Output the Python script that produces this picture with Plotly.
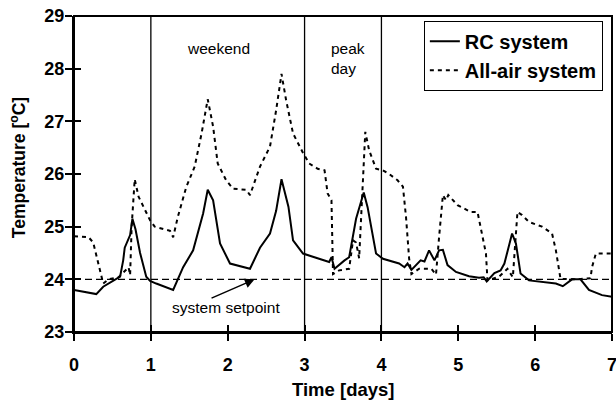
import plotly.graph_objects as go

# ---- data ----
rc_t = [0, 0.29, 0.38, 0.58, 0.60, 0.64, 0.66, 0.73, 0.76, 0.80, 0.86, 0.94, 0.99, 1.07,
        1.29, 1.42, 1.55, 1.68, 1.74, 1.81, 1.90, 2.03, 2.29, 2.42, 2.55, 2.63, 2.70, 2.79,
        2.85, 2.98, 3.24, 3.32, 3.35, 3.39, 3.52, 3.58, 3.67, 3.74, 3.77, 3.82, 3.93, 4.02,
        4.23, 4.30, 4.34, 4.39, 4.51, 4.56, 4.62, 4.69, 4.75, 4.80, 4.86, 4.97, 5.14, 5.27,
        5.33, 5.37, 5.47, 5.55, 5.60, 5.70, 5.75, 5.81, 5.92, 6.27, 6.36, 6.48, 6.59, 6.70,
        6.87, 7.0]
rc_temp = [23.80, 23.72, 23.86, 24.02, 24.05, 24.36, 24.60, 24.84, 25.15, 24.95, 24.50, 24.05,
           23.97, 23.92, 23.80, 24.23, 24.55, 25.25, 25.70, 25.50, 24.68, 24.30, 24.20, 24.60,
           24.87, 25.30, 25.90, 25.38, 24.74, 24.49, 24.36, 24.33, 24.42, 24.20, 24.36, 24.42,
           25.15, 25.50, 25.65, 25.37, 24.49, 24.39, 24.30, 24.23, 24.30, 24.18, 24.36, 24.34,
           24.55, 24.36, 24.55, 24.56, 24.27, 24.14, 24.06, 24.03, 24.04, 23.96, 24.12, 24.17,
           24.30, 24.87, 24.68, 24.11, 23.98, 23.92, 23.87, 24.00, 24.00, 23.80, 23.70, 23.67]

aa_t = [0, 0.19, 0.25, 0.36, 0.38, 0.45, 0.58, 0.71, 0.73, 0.75, 0.79, 0.84, 0.99, 1.05,
        1.16, 1.25, 1.29, 1.35, 1.46, 1.57, 1.66, 1.74, 1.81, 1.87, 1.98, 2.07, 2.24, 2.29,
        2.42, 2.55, 2.63, 2.70, 2.76, 2.85, 2.98, 3.06, 3.17, 3.26, 3.30, 3.35, 3.37, 3.45,
        3.58, 3.63, 3.67, 3.71, 3.74, 3.79, 3.84, 3.93, 4.02, 4.10, 4.21, 4.28, 4.32, 4.36,
        4.39, 4.49, 4.65, 4.71, 4.75, 4.80, 4.84, 4.87, 4.99, 5.16, 5.25, 5.29, 5.36, 5.38,
        5.53, 5.64, 5.71, 5.75, 5.77, 5.83, 5.92, 6.09, 6.22, 6.27, 6.33, 6.53, 6.72, 6.74,
        6.79, 7.0]
aa_temp = [24.82, 24.80, 24.70, 24.08, 23.92, 24.00, 24.04, 24.23, 24.08, 25.00, 25.90, 25.57,
           25.12, 25.00, 24.96, 24.92, 24.80, 25.18, 25.75, 26.14, 26.77, 27.42, 26.90, 26.20,
           25.88, 25.72, 25.70, 25.60, 26.14, 26.52, 27.21, 27.90, 27.40, 26.77, 26.40, 26.20,
           26.10, 26.07, 25.63, 25.50, 24.10, 24.17, 24.20, 24.74, 24.70, 24.40, 25.30, 26.80,
           26.45, 26.10, 26.07, 26.00, 25.88, 25.76, 25.18, 24.40, 24.10, 24.20, 24.20, 24.09,
           24.80, 25.60, 25.50, 25.60, 25.41, 25.28, 25.28, 25.00, 24.49, 23.98, 24.05, 24.20,
           24.04, 24.87, 25.28, 25.22, 25.09, 25.00, 24.87, 24.55, 24.01, 24.00, 24.02, 24.23,
           24.49, 24.49]

setpoint_t = [0, 7]
setpoint_temp = [24, 24]
day_markers = [1, 3, 4]
x_ticks = [0, 1, 2, 3, 4, 5, 6, 7]
y_ticks = [23, 24, 25, 26, 27, 28, 29]

FONT = "Liberation Sans, Arial, Helvetica, sans-serif"

fig = go.Figure()
fig.add_trace(go.Scatter(x=setpoint_t, y=setpoint_temp, mode="lines", showlegend=False,
                         line=dict(color="black", width=1.2, dash="7px,4px"), hoverinfo="skip"))
for d in day_markers:
    fig.add_trace(go.Scatter(x=[d, d], y=[23, 29], mode="lines", showlegend=False,
                             line=dict(color="black", width=1.3), hoverinfo="skip"))
fig.add_trace(go.Scatter(x=rc_t, y=rc_temp, mode="lines", name="RC system",
                         line=dict(color="black", width=2)))
fig.add_trace(go.Scatter(x=aa_t, y=aa_temp, mode="lines", name="All-air system",
                         line=dict(color="black", width=2, dash="4px,4px")))
# invisible trace to activate the overlay axes (inside tick marks)
fig.add_trace(go.Scatter(x=[0], y=[23], xaxis="x2", yaxis="y2", mode="markers",
                         marker=dict(opacity=0), showlegend=False, hoverinfo="skip"))

axis_font = dict(family=FONT, size=18, color="black", weight="bold")
fig.update_layout(
    width=616, height=403,
    margin=dict(l=74, r=4, t=16, b=71, autoexpand=False),
    plot_bgcolor="white", paper_bgcolor="white",
    font=dict(family=FONT, color="black"),
    xaxis=dict(range=[0, 7], tickvals=x_ticks, ticks="outside", ticklen=7, tickwidth=2,
               tickcolor="black", showline=True, linewidth=2, linecolor="black",
               showgrid=False, zeroline=False, tickfont=axis_font, ticklabelstandoff=8,
               ticklabeloverflow="allow", automargin=False),
    yaxis=dict(range=[23, 29], tickvals=y_ticks, ticks="outside", ticklen=7, tickwidth=2,
               tickcolor="black", showline=True, linewidth=2, linecolor="black",
               showgrid=False, zeroline=False, tickfont=axis_font, ticklabelstandoff=-3,
               automargin=False),
    xaxis2=dict(range=[0, 7], overlaying="x", anchor="y", side="bottom", tickvals=x_ticks,
                ticks="inside", ticklen=7, tickwidth=2, tickcolor="black", showticklabels=False,
                showline=False, showgrid=False, zeroline=False, automargin=False),
    yaxis2=dict(range=[23, 29], overlaying="y", anchor="x", side="left", tickvals=y_ticks,
                ticks="inside", ticklen=7, tickwidth=2, tickcolor="black", showticklabels=False,
                showline=False, showgrid=False, zeroline=False, automargin=False),
    legend=dict(x=0.983, y=0.985, xanchor="right", yanchor="top", bgcolor="white",
                bordercolor="black", borderwidth=1,
                font=dict(family=FONT, size=20, color="black", weight="bold"),
                tracegroupgap=0),
    showlegend=True,
    shapes=[dict(type="rect", xref="paper", yref="paper", x0=0, y0=0, x1=1, y1=1,
                 line=dict(color="black", width=2), layer="above")],
)

fig.add_annotation(text="Time [days]", xref="paper", yref="paper", x=0.5, y=-0.183,
                   xanchor="center", yanchor="middle", showarrow=False,
                   font=dict(family=FONT, size=18.5, color="black", weight="bold"))
fig.add_annotation(text="Temperature [<sup>o</sup>C]", xref="paper", yref="paper", x=-0.105, y=0.52,
                   xanchor="center", yanchor="middle", textangle=-90, showarrow=False,
                   font=dict(family=FONT, size=17.5, color="black", weight="bold"))
fig.add_annotation(text="weekend", x=1.88, y=28.39, showarrow=False,
                   font=dict(family=FONT, size=15.5, color="black"))
fig.add_annotation(text="peak<br>day", x=3.32, y=28.2, xanchor="left", align="left", showarrow=False,
                   font=dict(family=FONT, size=15.5, color="black"))
fig.add_annotation(text="system setpoint", x=1.98, y=23.47, showarrow=False,
                   font=dict(family=FONT, size=15.5, color="black"))
fig.add_annotation(x=2.35, y=24.0, ax=1.77, ay=23.63, axref="x", ayref="y", xref="x", yref="y",
                   text="", showarrow=True, arrowhead=2, arrowsize=1.3, arrowwidth=1.5,
                   arrowcolor="black", standoff=0)

fig.write_html("out.html", config={"displayModeBar": False},
               post_script="document.body.style.margin='0';document.body.style.padding='0';")
